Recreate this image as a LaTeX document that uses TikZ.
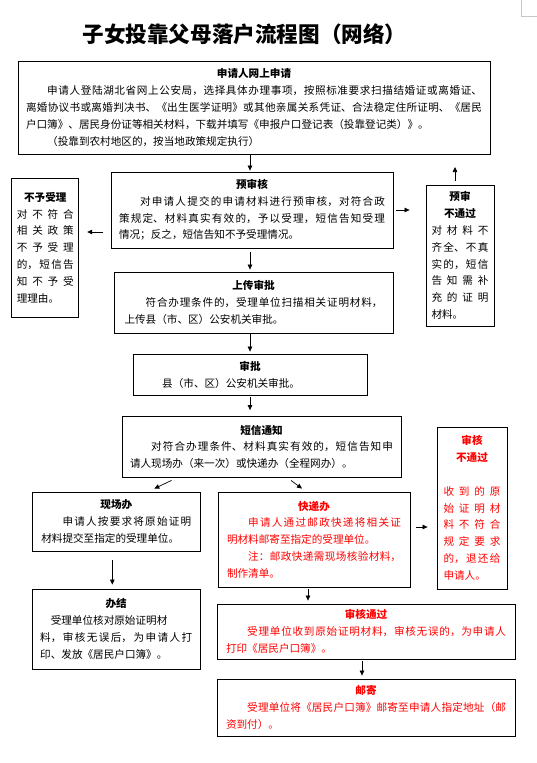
\documentclass[tikz,border=0pt]{standalone}
\usepackage{fontspec}
\setmainfont{Noto Sans CJK SC}
\usetikzlibrary{arrows.meta}
\XeTeXlinebreaklocale "zh"
\XeTeXlinebreakskip=0pt plus 3pt
\setlength{\parindent}{0pt}
\hfuzz=3pt
\newcommand{\hd}[1]{{\centering\bfseries #1\par}}
\newcommand{\ind}{\hspace*{2em}}
\begin{document}
\begin{tikzpicture}[x=1pt,y=-1pt,
  box/.style={draw,line width=0.8pt,inner xsep=8pt,inner ysep=0pt,align=justify,
    font=\fontsize{10.6}{16.8}\selectfont},
  narrow/.style={box,inner xsep=5pt,text width=57pt},
  >={Triangle[length=5pt,width=4.5pt]},
  flow/.style={->,line width=0.7pt}]
\useasboundingbox (0,0) rectangle (537,763);
\draw[gray!45] (521,0) -- (521,16) -- (537,16);
\node[font=\fontsize{21.6}{24}\bfseries\selectfont] (title) at (244.5,34) {子女投靠父母落户流程图（网络）};
\node[box,minimum width=472,minimum height=93,text width=456] (apply) at (254,107.5) {\hd{申请人网上申请}\ind 申请人登陆湖北省网上公安局，选择具体办理事项，按照标准要求扫描结婚证或离婚证、\linebreak
离婚协议书或离婚判决书、《出生医学证明》或其他亲属关系凭证、合法稳定住所证明、《居民\linebreak
户口簿》、居民身份证等相关材料，下载并填写《申报户口登记表（投靠登记类）》。\par
\ind （投靠到农村地区的，按当地政策规定执行）};
\node[box,minimum width=282,minimum height=76,text width=266] (precheck) at (252,210) {\hd{预审核}\ind 对申请人提交的申请材料进行预审核，对符合政\linebreak
策规定、材料真实有效的，予以受理，短信告知受理\linebreak
情况；反之，短信告知不予受理情况。};
\node[narrow,minimum width=67,minimum height=139] (reject) at (45.3,247.5) {\hd{不予受理}对不符合\linebreak
相关政策\linebreak
不予受理\linebreak
的，短信告\linebreak
知不予受\linebreak
理理由。};
\node[narrow,minimum width=68,minimum height=141] (fail1) at (460,255.5) {\hd{预审\\不通过}对材料不\linebreak
齐全、不真\linebreak
实的，短信\linebreak
告知需补\linebreak
充的证明\linebreak
材料。};
\node[box,minimum width=279,minimum height=61,text width=258] (upload) at (253.5,302.5) {\hd{上传审批}\ind 符合办理条件的，受理单位扫描相关证明材料，\linebreak
上传县（市、区）公安机关审批。};
\node[box,minimum width=234,minimum height=41,text width=218] (approve) at (250,374.5) {\hd{审批}\ind 县（市、区）公安机关审批。};
\node[box,minimum width=279,minimum height=60.5,text width=263] (notify) at (261.5,446.75) {\hd{短信通知}\ind 对符合办理条件、材料真实有效的，短信告知申\linebreak
请人现场办（来一次）或快递办（全程网办）。};
\node[box,minimum width=167.4,minimum height=59,text width=150] (onsite) at (116.3,521.5) {\hd{现场办}\ind 申请人按要求将原始证明\linebreak
材料提交至指定的受理单位。};
\node[box,text=red,minimum width=192,minimum height=95,text width=174] (express) at (314,539.5) {\hd{快递办}\ind 申请人通过邮政快递将相关证\linebreak
明材料邮寄至指定的受理单位。\par
\ind 注：邮政快递需现场核验材料，\linebreak
制作清单。};
\node[narrow,text=red,minimum width=70,minimum height=162] (fail2) at (472,508) {\hd{审核\\不通过}\null\par
收到的原\linebreak
始证明材\linebreak
料不符合\linebreak
规定要求\linebreak
的，退还给\linebreak
申请人。};
\node[box,minimum width=168,minimum height=80,text width=152] (done) at (116.2,629) {\hd{办结}\hspace*{1em}受理单位核对原始证明材\newline
料，审核无误后，为申请人打\linebreak
印、发放《居民户口簿》。};
\node[box,text=red,minimum width=298,minimum height=55,text width=280] (passed) at (366,631.5) {\hd{审核通过}\ind 受理单位收到原始证明材料，审核无误的，为申请人\linebreak
打印《居民户口簿》。};
\node[box,text=red,minimum width=298,minimum height=57,text width=280] (mail) at (366,707.5) {\hd{邮寄}\ind 受理单位将《居民户口簿》邮寄至申请人指定地址（邮\linebreak
资到付）。};
\coordinate (back) at (455,167);
\draw[flow,shorten >=1pt] ([xshift=-4]apply.south) -- ([xshift=-4]apply.south |- precheck.north);
\draw[flow,shorten <=8pt,shorten >=8pt] ([yshift=-22]precheck.west) -- ([yshift=-22]precheck.west -| reject.east);
\draw[flow,shorten <=3pt,shorten >=16pt] (precheck.east) -- (precheck.east -| fail1.west);
\draw[flow,shorten <=4pt] ([xshift=-5]fail1.north) -- (back);
\draw[flow,shorten <=4pt,shorten >=2pt] ([xshift=-2]precheck.south) -- ([xshift=-2]precheck.south |- upload.north);
\draw[flow,shorten >=2pt] ([xshift=-3.5]upload.south) -- ([xshift=-3.5]upload.south |- approve.north);
\draw[flow,shorten <=2pt,shorten >=6pt] (approve.south) -- (approve.south |- notify.north);
\draw[flow] ([xshift=-90,yshift=-3]notify.south) -- ([xshift=38,yshift=3]onsite.north);
\draw[flow] ([xshift=29.5,yshift=-3]notify.south) -- ([xshift=-12,yshift=3]express.north);
\draw[flow,shorten <=6pt,shorten >=9pt] ([yshift=12.5]express.east) -- ([yshift=12.5]express.east -| fail2.west);
\draw[flow,shorten <=9pt,shorten >=4pt] ([xshift=-4]onsite.south) -- ([xshift=-4]onsite.south |- done.north);
\draw[flow,shorten <=2pt,shorten >=3pt] ([xshift=-6]express.south) -- ([xshift=-6]express.south |- passed.north);
\draw[flow,shorten <=2pt,shorten >=3pt] ([xshift=-4]passed.south) -- ([xshift=-4]passed.south |- mail.north);
\end{tikzpicture}
\end{document}
